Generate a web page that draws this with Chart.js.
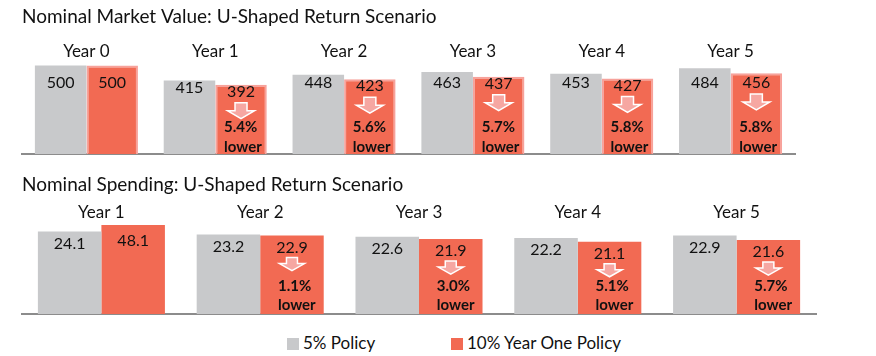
<!DOCTYPE html>
<html>
<head>
<meta charset="utf-8">
<script src="https://cdn.jsdelivr.net/npm/chart.js@4"></script>
<style>
  html, body { margin: 0; padding: 0; background: #fff; }
  body { width: 876px; height: 356px; position: relative; overflow: hidden; font-family: Lato, "Noto Sans", sans-serif; }
  .wrap { position: absolute; left: 0; width: 876px; height: 160px; }
  #legend { position: absolute; top: 333px; left: 0; width: 876px; height: 20px; font-size: 17px; color: #111; }
  .li { position: absolute; top: 0; height: 20px; line-height: 20px; white-space: nowrap; }
  .sw { display: inline-block; width: 12px; height: 12px; vertical-align: -1px; margin-right: 4px; }
</style>
</head>
<body>
<div class="wrap" style="top:0"><canvas id="c1" width="876" height="160"></canvas></div>
<div class="wrap" style="top:160px"><canvas id="c2" width="876" height="160"></canvas></div>
<div id="legend"></div>
<script>
// ---- data ----
const seriesNames = ['5% Policy', '10% Year One Policy'];
const mvTitle = 'Nominal Market Value: U-Shaped Return Scenario';
const mvYears = ['Year 0', 'Year 1', 'Year 2', 'Year 3', 'Year 4', 'Year 5'];
const mvPolicy5 = [500, 415, 448, 463, 453, 484];
const mvPolicy10 = [500, 392, 423, 437, 427, 456];
const mvLowerPct = ['', '5.4%', '5.6%', '5.7%', '5.8%', '5.8%'];

const spTitle = 'Nominal Spending: U-Shaped Return Scenario';
const spYears = ['Year 1', 'Year 2', 'Year 3', 'Year 4', 'Year 5'];
const spPolicy5 = [24.1, 23.2, 22.6, 22.2, 22.9];
const spPolicy10 = [48.1, 22.9, 21.9, 21.1, 21.6];
const spLowerPct = ['', '1.1%', '3.0%', '5.1%', '5.7%'];
const lowerWord = 'lower';

// ---- style ----
const FONT = 'Lato';
const GRAY = '#c8c9cb';
const RED = '#f26a53';
const RED_EDGE = '#f7a29b';
const ARROW = '#f6a7a2';

const annot = {
  id: 'annot',
  afterDatasetsDraw(chart, args, o) {
    const ctx = chart.ctx, area = chart.chartArea;
    const base = chart.scales.y.getPixelForValue(0);
    ctx.save();
    chart.data.datasets.forEach((ds, di) => {
      const meta = chart.getDatasetMeta(di);
      meta.data.forEach((bar, i) => {
        const top = Math.max(bar.y, area.top);
        const cy = Math.max(top + o.valOff, area.top + o.valMin);
        ctx.fillStyle = '#111';
        ctx.font = '16px ' + FONT;
        ctx.textAlign = 'center';
        ctx.textBaseline = 'middle';
        ctx.fillText(o.fmt(ds.data[i]), bar.x, cy);
        const pct = o.pct[i];
        if (di === 1 && pct) {
          const ax = bar.x, at = cy + o.arrGap;
          const sw = o.shaftW / 2, hw = o.headW / 2;
          ctx.beginPath();
          ctx.moveTo(ax - sw, at);
          ctx.lineTo(ax + sw, at);
          ctx.lineTo(ax + sw, at + o.shaftH);
          ctx.lineTo(ax + hw, at + o.shaftH);
          ctx.lineTo(ax, at + o.shaftH + o.headH);
          ctx.lineTo(ax - hw, at + o.shaftH);
          ctx.lineTo(ax - sw, at + o.shaftH);
          ctx.closePath();
          ctx.fillStyle = ARROW;
          ctx.fill();
          ctx.strokeStyle = '#ffffff';
          ctx.lineWidth = 1.5;
          ctx.stroke();
          ctx.fillStyle = '#111';
          ctx.font = 'bold 15px ' + FONT;
          ctx.textAlign = 'left';
          ctx.fillText(pct, bar.x + o.txtDx, base - o.pctUp);
          ctx.fillText(lowerWord, bar.x + o.txtDx, base - o.lowUp);
        }
      });
    });
    ctx.restore();
  }
};

function makeChart(id, title, labels, d5, d10, ymax, pad, titlePad, tickPad, edge, annOpts) {
  return new Chart(document.getElementById(id), {
    type: 'bar',
    data: {
      labels: labels,
      datasets: [
        { label: seriesNames[0], data: d5, backgroundColor: GRAY, borderWidth: 0, clip: 0 },
        { label: seriesNames[1], data: d10, backgroundColor: RED, borderColor: edge ? RED_EDGE : RED,
          borderWidth: edge ? 2 : 0, clip: 0 }
      ]
    },
    options: {
      responsive: false,
      animation: false,
      events: [],
      layout: { padding: pad },
      datasets: { bar: { categoryPercentage: 0.8, barPercentage: 1.0 } },
      plugins: {
        legend: { display: false },
        tooltip: { enabled: false },
        title: {
          display: true, text: title, align: 'start', color: '#111',
          font: { family: FONT, size: 19, weight: 'normal' }, padding: titlePad
        },
        annot: annOpts
      },
      scales: {
        x: {
          position: 'top',
          grid: { display: false, drawTicks: false },
          border: { display: false },
          ticks: { color: '#111', font: { family: FONT, size: 17 }, padding: tickPad, maxRotation: 0 }
        },
        x2: {
          type: 'category', labels: labels, position: 'bottom', offset: true,
          grid: { display: false, drawTicks: false },
          border: { display: true, color: '#8c8c8c', width: 2 },
          ticks: { display: false }
        },
        y: { display: false, min: 0, max: ymax }
      }
    },
    plugins: [annot]
  });
}

makeChart('c1', mvTitle, mvYears, mvPolicy5, mvPolicy10, 520,
  { left: 22, right: 81, top: 0, bottom: 6 }, { top: 5.8, bottom: 13 }, 0, true,
  { fmt: v => String(v), pct: mvLowerPct, valOff: 7, valMin: 21, arrGap: 11,
    shaftW: 12, headW: 27, shaftH: 8, headH: 8, txtDx: -17, pctUp: 27, lowUp: 7 });

makeChart('c2', spTitle, spYears, spPolicy5, spPolicy10, 26,
  { left: 22, right: 60, top: 0, bottom: 6 }, { top: 13.6, bottom: 3.2 }, 2.5, false,
  { fmt: v => v.toFixed(1), pct: spLowerPct, valOff: 12, valMin: 16, arrGap: 10,
    shaftW: 11, headW: 25, shaftH: 6, headH: 7, txtDx: -14, pctUp: 27.5, lowUp: 9 });

// HTML legend built from the series names
const legendPos = [287, 451];
const legendCol = [GRAY, RED];
const lg = document.getElementById('legend');
seriesNames.forEach((n, i) => {
  const d = document.createElement('div');
  d.className = 'li';
  d.style.left = legendPos[i] + 'px';
  const s = document.createElement('span');
  s.className = 'sw';
  s.style.background = legendCol[i];
  d.appendChild(s);
  d.appendChild(document.createTextNode(n));
  lg.appendChild(d);
});
</script>
</body>
</html>
